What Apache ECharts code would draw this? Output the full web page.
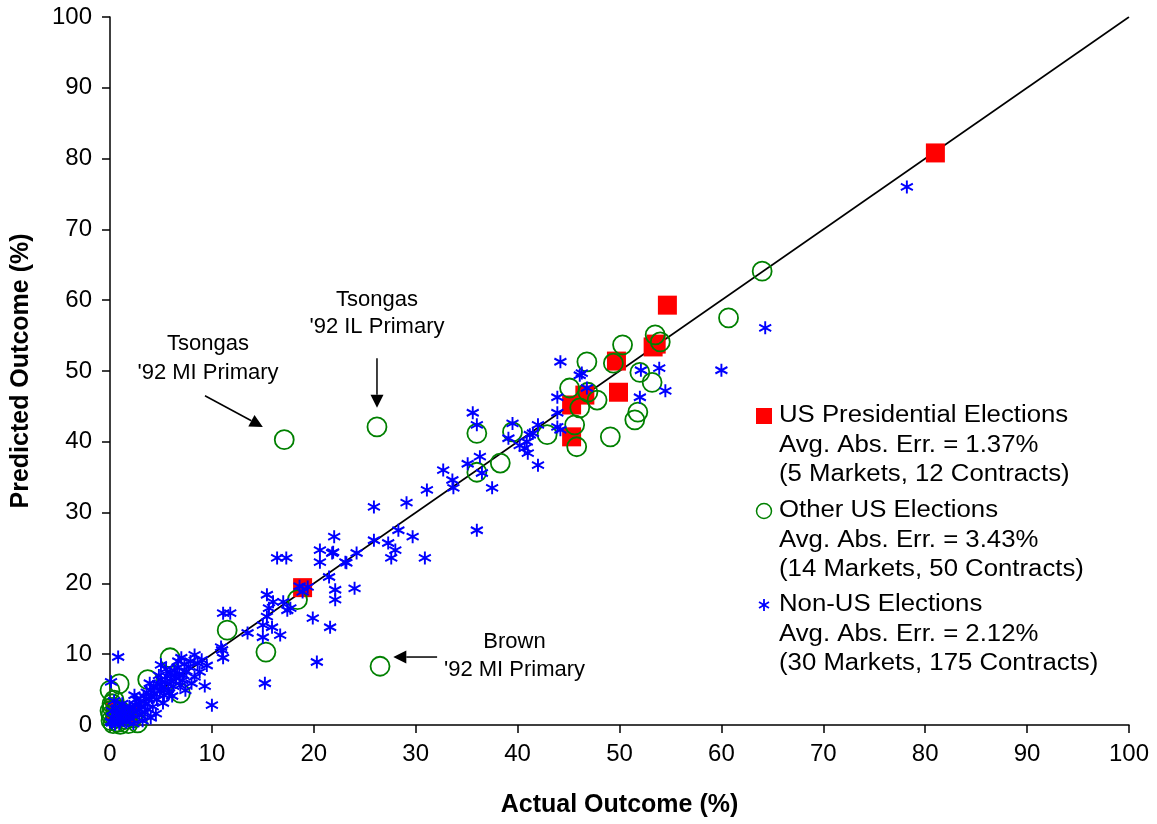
<!DOCTYPE html>
<html><head><meta charset="utf-8">
<script src="https://cdn.jsdelivr.net/npm/echarts@6/dist/echarts.min.js"></script>
<style>html,body{margin:0;padding:0;background:#fff}#c{width:1157px;height:824px}</style>
</head><body><div id="c"></div>
<script>
// ---------- DATA ----------
const xTickValues = [0,10,20,30,40,50,60,70,80,90,100];
const yTickValues = [0,10,20,30,40,50,60,70,80,90,100];
const seriesNames = ["US Presidential Elections","Other US Elections","Non-US Elections"];
const legendLines = [
  ["US Presidential Elections","Avg. Abs. Err. = 1.37%","(5 Markets, 12 Contracts)"],
  ["Other US Elections","Avg. Abs. Err. = 3.43%","(14 Markets, 50 Contracts)"],
  ["Non-US Elections","Avg. Abs. Err. = 2.12%","(30 Markets, 175 Contracts)"]
];
// [actual, predicted]
const presidential = [
  [81.0,80.8],[54.7,59.3],[53.3,53.4],[53.6,53.8],[49.7,51.4],[49.9,47.0],
  [45.3,45.2],[46.6,46.6],[45.3,40.7],[18.9,19.4],[0.5,2.1],[1.8,1.5]
];
const otherUS = [
  [17.1,40.3],[26.2,42.1],[26.5,8.3],[64.0,64.1],[60.7,57.5],
  [46.8,51.3],[50.3,53.7],[49.4,51.1],[53.5,55.1],[54.0,54.1],[52.0,49.8],[53.2,48.4],
  [45.1,47.6],[46.9,47.0],[47.8,45.9],[46.1,44.8],[45.6,42.4],[45.8,39.3],[49.1,40.7],
  [42.9,41.0],[51.5,43.1],[51.8,44.2],
  [36.0,41.2],[39.5,41.4],[36.0,35.7],[38.3,37.0],
  [11.5,13.4],[15.3,10.3],[18.4,17.7],
  [5.9,9.5],[0.9,5.8],[0.0,4.9],[3.7,6.4],[6.9,4.5],
  [0.2,2.5],[0.1,1.4],[0.8,0.4],[2.7,0.3],[1.8,0.2],[0.3,0.2],[0.5,1.0],[1.2,1.8],
  [0.2,3.0],[0.6,2.2],[1.5,0.8],[0.1,0.6],[1.0,0.1],[2.2,1.0],[0.4,3.5],[0.0,2.0]
];
const nonUS = [
  [78.2,76.0],[64.3,56.1],[60.0,50.1],[52.1,50.1],[53.9,50.4],[54.5,47.2],[52.0,46.3],
  [46.8,47.6],[46.3,49.7],[44.2,51.3],[46.1,49.4],[43.9,46.3],[43.9,44.1],[43.9,42.1],
  [44.2,41.7],[42.0,42.4],[41.2,41.0],[40.9,40.0],[40.7,39.1],[41.0,38.4],[42.0,36.7],
  [41.5,41.2],[40.2,39.5],[39.5,42.6],[39.1,40.5],[35.6,44.1],[36.0,42.4],[36.3,37.9],
  [35.1,36.9],[36.5,35.6],[37.5,33.5],[32.7,36.0],[33.6,34.6],[33.7,33.5],[31.1,33.2],
  [29.1,31.4],[25.9,30.8],[36.0,27.5],[28.3,27.5],[29.7,26.6],[25.9,26.1],[27.3,25.7],
  [28.0,24.7],[27.6,23.6],[30.9,23.6],[24.2,24.3],[22.0,26.6],[21.9,24.4],[23.1,23.0],
  [16.4,23.6],[17.3,23.6],[20.6,24.7],[20.6,23.0],[21.5,20.9],[22.1,19.1],[22.1,17.7],
  [24.0,19.3],[18.6,19.6],[19.4,19.5],[15.4,18.4],[16.0,17.4],[17.0,17.4],[17.7,16.5],
  [15.6,16.5],[15.4,15.3],[15.0,14.1],[15.9,13.8],[16.7,12.7],[15.0,12.4],[13.5,13.0],
  [19.9,15.1],[21.6,13.8],[11.1,15.8],[11.8,15.8],[11.0,10.6],[11.1,9.5],[20.3,8.9],
  [15.2,5.9],[0.8,9.6],[0.1,6.1],[9.3,5.5],[10.0,2.8],[10.9,11.0],[21.8,24.3],[23.2,22.9],
  [18.9,18.8],[17.4,16.2],
  [0.2,0.3],[0.5,0.1],[0.8,0.6],[1.0,1.2],[1.3,0.8],[1.5,1.6],[1.8,1.1],[2.0,2.2],
  [2.2,1.5],[2.5,2.8],[2.7,2.0],[3.0,3.4],[3.1,2.5],[3.3,4.1],[3.5,3.0],[3.6,4.6],
  [3.8,3.6],[4.0,4.9],[4.1,3.9],[4.3,5.3],[4.4,4.4],[4.6,3.6],[4.7,5.8],[4.9,4.9],
  [5.0,6.4],[5.1,5.4],[5.3,4.2],[5.4,6.0],[5.6,6.9],[5.7,5.1],[5.9,7.4],[6.0,6.2],
  [6.2,5.5],[6.3,7.7],[6.5,6.6],[6.6,8.1],[6.8,7.2],[7.0,9.5],[7.1,6.3],[7.3,8.6],
  [7.5,7.6],[7.7,8.2],[7.9,9.0],[8.0,5.9],[8.3,9.9],[8.3,6.8],[8.8,7.5],[6.4,6.8],
  [5.0,8.5],[2.4,4.2],[1.2,3.0],[0.6,2.2],[0.3,1.0],[0.1,0.5],[0.9,0.2],[1.6,0.4],
  [2.0,0.9],[2.9,1.4],[3.4,1.8],[4.2,2.6],[4.5,1.6],[3.9,5.9],[4.8,7.0],[5.8,4.5],
  [6.9,5.6],[7.4,4.9],[2.6,3.6],[1.9,2.6],[1.1,1.9],[0.4,3.4],[0.2,2.0],[3.2,0.6],
  [2.3,0.2],[4.0,1.0],[5.2,3.1],[6.1,4.1],[7.2,7.0],[8.6,8.7],[9.0,9.2],[9.5,8.4],
  [5.5,7.9],[3.7,2.2],[2.8,3.0],[1.4,2.4],[0.7,1.5],[6.7,9.0]
];
const perfectLine = [[0,0],[100,100]];
const annotationLabels = [
  ["Tsongas","'92 MI Primary"],
  ["Tsongas","'92 IL Primary"],
  ["Brown","'92 MI Primary"]
];

// ---------- LAYOUT (data-space anchors for annotations) ----------
const annotationTextAt = [[9.62,51.8],[26.2,58.1],[39.7,9.75]];
const annotationLineH = [29,27,28];
const arrows = [
  [[9.32,46.5],[15.0,42.1]],
  [[26.2,51.8],[26.2,44.8]],
  [[32.1,9.6],[27.8,9.6]]
];

const FONT = '"Liberation Sans", Arial, Helvetica, sans-serif';
const RED = '#ff0000', GREEN = '#008000', BLUE = '#0000ff';
const STAR = 'path://M5,0L5,12M0,3L10,9M0,9L10,3';

const chart = echarts.init(document.getElementById('c'), null, {renderer:'canvas'});

const axisCommon = {
  type:'value', min:0, max:100, interval:10,
  splitLine:{show:false},
  axisLine:{show:true, onZero:false, lineStyle:{color:'#000', width:1.5}},
  axisTick:{show:true, inside:false, length:8, lineStyle:{color:'#000', width:1.5}},
  nameLocation:'middle',
  nameTextStyle:{fontFamily:FONT, fontWeight:'bold', fontSize:25, color:'#000'}
};

chart.setOption({
  animation:false,
  backgroundColor:'#fff',
  grid:{left:110, right:28, top:17, bottom:99, containLabel:false},
  xAxis:Object.assign({}, axisCommon, {
    name:'Actual Outcome (%)', nameGap:68,
    axisLabel:{fontFamily:FONT, fontSize:24, color:'#000', margin:17,
      formatter:v=>xTickValues.includes(v)?String(v):''}
  }),
  yAxis:Object.assign({}, axisCommon, {
    name:'Predicted Outcome (%)', nameGap:76,
    axisLabel:{fontFamily:FONT, fontSize:24, color:'#000', margin:18,
      formatter:v=>yTickValues.includes(v)?String(v):''}
  }),
  series:[
    {type:'line', data:perfectLine, symbol:'none', silent:true, z:1,
      lineStyle:{color:'#000', width:1.6}},
    {name:seriesNames[0], type:'scatter', data:presidential, z:2,
      symbol:'rect', symbolSize:19, itemStyle:{color:RED, opacity:1}},
    {name:seriesNames[1], type:'scatter', data:otherUS, z:3,
      symbol:'circle', symbolSize:19,
      itemStyle:{color:'rgba(0,0,0,0)', borderColor:GREEN, borderWidth:1.8, opacity:1}},
    {name:seriesNames[2], type:'scatter', data:nonUS, z:4,
      symbol:STAR, symbolSize:[12,13], symbolKeepAspect:false,
      itemStyle:{color:BLUE, borderColor:BLUE, borderWidth:2, opacity:1}}
  ]
});

// ---------- annotations & legend ----------
const g = [];
const px = p => chart.convertToPixel({xAxisIndex:0, yAxisIndex:0}, p);
annotationLabels.forEach((lines,i)=>{
  const c = px(annotationTextAt[i]);
  g.push({type:'text', x:c[0], y:c[1], z:10,
    style:{text:lines.join('\n'), fontFamily:FONT, fontSize:22, fill:'#000',
      textAlign:'center', textVerticalAlign:'middle', lineHeight:annotationLineH[i]}});
});
arrows.forEach(a=>{
  const s = px(a[0]), e = px(a[1]);
  const dx = e[0]-s[0], dy = e[1]-s[1], L = Math.hypot(dx,dy);
  const ux = dx/L, uy = dy/L, hl = 13, hw = 6.5;
  const bx = e[0]-ux*hl, by = e[1]-uy*hl;
  g.push({type:'line', z:10, shape:{x1:s[0], y1:s[1], x2:bx, y2:by},
    style:{stroke:'#000', lineWidth:1.5}});
  g.push({type:'polygon', z:10, shape:{points:[[e[0],e[1]],[bx-uy*hw,by+ux*hw],[bx+uy*hw,by-ux*hw]]},
    style:{fill:'#000'}});
});
// legend
const legX = 779, legIconX = 764;
const legY = [416, 511, 605], legLH = 29.5;
g.push({type:'rect', z:10, shape:{x:legIconX-8, y:legY[0]-8, width:16, height:16}, style:{fill:RED}});
g.push({type:'circle', z:10, shape:{cx:legIconX, cy:legY[1], r:7.5}, style:{fill:'none', stroke:GREEN, lineWidth:1.5}});
[[0,-6,0,6],[-5,-3,5,3],[-5,3,5,-3]].forEach(s=>{
  g.push({type:'line', z:10, shape:{x1:legIconX+s[0], y1:legY[2]+s[1], x2:legIconX+s[2], y2:legY[2]+s[3]},
    style:{stroke:BLUE, lineWidth:1.8}});
});
legendLines.forEach((lines,i)=>{
  lines.forEach((t,j)=>{
    g.push({type:'text', z:10, x:legX, y:legY[i]+j*legLH, scaleX:1.12,
      style:{text:t, fontFamily:FONT, fontSize:23, fill:'#000', textAlign:'left', textVerticalAlign:'middle'}});
  });
});
chart.setOption({graphic:g});
</script></body></html>
